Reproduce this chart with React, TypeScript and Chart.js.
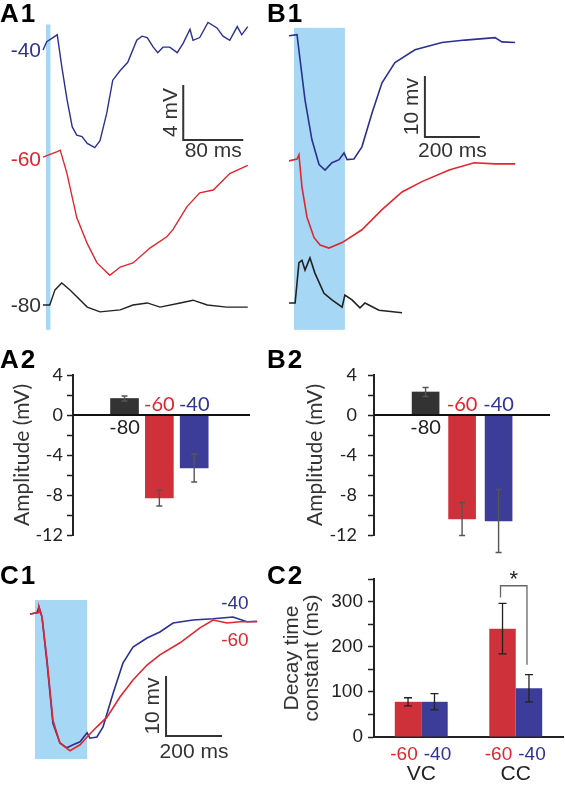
import React, { useEffect, useRef } from "react";
import { Chart, registerables } from "chart.js";

Chart.register(...registerables);

// ---------------- DATA ----------------
// A1: example responses (time in ms from light onset, deflection in mV)
const a1TimeNeg40 = [0, 5, 19, 25, 32, 39, 45, 52, 59, 69, 76, 85, 93, 103, 113, 125, 132, 139, 147, 153, 160, 169, 179, 187, 196, 200, 209, 220, 232, 240, 249, 259, 265, 273];
const a1VoltNeg40 = [0, 0.6, 1.1, -1.2, -3.6, -5.6, -6.2, -6.3, -6.8, -7.1, -6.6, -4.6, -2.2, -1.5, -0.9, 0.7, 1.0, 0.9, 0.2, -0.2, 0.2, 0.2, -0.2, 0.5, 1.5, 0.7, 0.9, 2.0, 1.6, 1.0, 0.7, 1.7, 1.1, 1.7];
const a1TimeNeg60 = [0, 19, 23, 32, 45, 59, 72, 89, 103, 120, 143, 165, 173, 192, 209, 227, 249, 273];
const a1VoltNeg60 = [0, 0.4, 0.5, -1.2, -4.4, -6.3, -7.7, -8.6, -8.0, -7.7, -6.6, -5.8, -5.3, -3.6, -2.6, -2.4, -1.2, -0.6];
const a1TimeNeg80 = [0, 9, 16, 25, 36, 59, 76, 103, 120, 139, 156, 183, 200, 219, 245, 273];
const a1VoltNeg80 = [0, 0, 1.1, 1.6, 1.1, -0.15, -0.5, -0.35, 0, 0.15, -0.15, 0.15, 0.35, 0, -0.15, -0.15];

// B1: example responses
const b1TimeNeg40 = [-18, 11, 22, 40, 65, 91, 113, 138, 164, 182, 193, 218, 247, 284, 320, 367, 440, 538, 622, 731, 756, 804];
const b1VoltNeg40 = [0, 0.2, -3.9, -10.5, -17.0, -21.1, -22.0, -20.8, -20.3, -19.2, -20.3, -20.2, -18.2, -12.6, -7.7, -4.4, -2.3, -1.1, -0.7, -0.3, -1.0, -1.1];
const b1TimeNeg60 = [-18, 11, 18, 29, 47, 73, 95, 127, 175, 247, 320, 393, 465, 564, 655, 731, 804];
const b1VoltNeg60 = [0, 0.3, 1.0, -4.3, -9.2, -12.6, -13.8, -14.3, -13.4, -11.3, -8.0, -5.1, -3.4, -1.5, -0.3, -0.5, -0.5];
const b1TimeNeg80 = [-18, 4, 18, 29, 40, 58, 76, 109, 138, 175, 185, 211, 240, 258, 309, 393];
const b1VoltNeg80 = [0, 0, 6.6, 7.0, 5.4, 7.4, 4.9, 1.6, 0.5, -0.7, 1.3, 0.5, -0.8, 0, -1.2, -1.6];

// C1: overlaid -40 / -60 responses
const c1TimeNeg40 = [-18, 7, 14, 25, 43, 64, 89, 114, 136, 161, 186, 196, 221, 243, 279, 314, 350, 400, 446, 493, 564, 636, 707, 757, 793];
const c1VoltNeg40 = [0, 0.2, 1.2, -0.5, -8.2, -18.2, -21.5, -22.3, -21.8, -21.3, -19.8, -20.7, -20.5, -18.8, -13.2, -8.2, -5.5, -4.0, -3.0, -1.5, -1.0, -0.8, -0.5, -1.3, -1.2];
const c1TimeNeg60 = [-18, 11, 14, 25, 43, 64, 89, 125, 161, 186, 221, 257, 304, 350, 400, 446, 518, 589, 636, 686, 732, 793];
const c1VoltNeg60 = [0, 0.2, 1.2, -0.5, -7.7, -17.7, -21.5, -22.8, -21.8, -20.5, -18.8, -17.2, -13.8, -11.0, -8.5, -6.8, -4.8, -2.3, -1.0, -1.5, -1.3, -1.3];

// A2 / B2: amplitude summary (mV)
const holdingLabels = ["-80", "-60", "-40"];
const a2Means = [1.65, -8.3, -5.3];
const a2Errors = [0.25, 0.8, 1.4];
const b2Means = [2.3, -10.4, -10.6];
const b2Errors = [0.45, 1.65, 3.15];

// C2: decay time constants (ms)
const c2Groups = ["VC", "CC"];
const c2Neg60 = [78, 240];
const c2Neg40 = [78, 108];
const c2Err60 = [9, 56];
const c2Err40 = [18, 30];
const c2SigBracket = { top: 335, leftEnd: 309, rightEnd: 160, starAt: 353 };

// ---------------- STYLE ----------------
const TRACE_BLUE = "#2b3193";
const TRACE_RED = "#e2262e";
const TRACE_BLACK = "#222222";
const STIM = "#a6d7f4";
const BAR_BLACK = "#333333";
const BAR_RED = "#cf313b";
const BAR_BLUE = "#3c3d98";
const LABEL_RED = "#e0262d";
const LABEL_BLUE = "#2e3394";
const ARIAL = '"Liberation Sans", Arial, Helvetica, sans-serif';
const CAL = 'Lato, "Liberation Sans", Arial, sans-serif';

type Trace = { t: number[]; v: number[]; offset: number; color: string; width: number };
type TLabel = { text: string; color: string; t: number; v: number; align: CanvasTextAlign; dx: number; dy: number };
type TraceSpec = {
  traces: Trace[];
  xRange: [number, number];
  yRange: [number, number];
  stim: [number, number, number, number];
  bar: { t: number; v: number; dt: number; dv: number; vText: string; hText: string; vDx: number; hDy: number };
  labels: TLabel[];
  labelFont: string;
};

function traceConfig(spec: TraceSpec): any {
  const decor = {
    id: "decor",
    beforeDatasetsDraw(chart: any) {
      const { ctx } = chart;
      const x = chart.scales.x, y = chart.scales.y;
      const [t0, t1, vt, vb] = spec.stim;
      const px0 = x.getPixelForValue(t0), px1 = x.getPixelForValue(t1);
      const py0 = y.getPixelForValue(vt), py1 = y.getPixelForValue(vb);
      ctx.save();
      ctx.fillStyle = STIM;
      ctx.fillRect(px0, py0, px1 - px0, py1 - py0);
      ctx.restore();
    },
    afterDatasetsDraw(chart: any) {
      const { ctx } = chart;
      const x = chart.scales.x, y = chart.scales.y;
      const b = spec.bar;
      const bx = x.getPixelForValue(b.t), by = y.getPixelForValue(b.v);
      const bx2 = x.getPixelForValue(b.t + b.dt), by2 = y.getPixelForValue(b.v + b.dv);
      ctx.save();
      ctx.strokeStyle = "#333";
      ctx.lineWidth = 2;
      ctx.beginPath();
      ctx.moveTo(bx, by2);
      ctx.lineTo(bx, by);
      ctx.lineTo(bx2, by);
      ctx.stroke();
      ctx.fillStyle = "#333";
      ctx.font = "21px " + ARIAL;
      ctx.textAlign = "center";
      ctx.textBaseline = "middle";
      ctx.fillText(b.hText, (bx + bx2) / 2, by + b.hDy);
      ctx.save();
      ctx.translate(bx + b.vDx, (by + by2) / 2);
      ctx.rotate(-Math.PI / 2);
      ctx.fillText(b.vText, 0, 0);
      ctx.restore();
      ctx.font = spec.labelFont;
      for (const l of spec.labels) {
        ctx.fillStyle = l.color;
        ctx.textAlign = l.align;
        ctx.fillText(l.text, x.getPixelForValue(l.t) + l.dx, y.getPixelForValue(l.v) + l.dy);
      }
      ctx.restore();
    },
  };
  return {
    type: "line",
    data: {
      datasets: spec.traces.map((tr) => ({
        data: tr.t.map((t, i) => ({ x: t, y: tr.v[i] + tr.offset })),
        borderColor: tr.color,
        borderWidth: tr.width,
        pointRadius: 0,
        tension: 0,
        fill: false,
      })),
    },
    options: {
      animation: false,
      responsive: false,
      devicePixelRatio: 1,
      events: [],
      layout: { padding: 0 },
      plugins: { legend: { display: false }, tooltip: { enabled: false } },
      scales: {
        x: { type: "linear", display: false, min: spec.xRange[0], max: spec.xRange[1] },
        y: { type: "linear", display: false, min: spec.yRange[0], max: spec.yRange[1] },
      },
    },
    plugins: [decor],
  };
}

function errorBars(errs: number[][], color: string, capHalf: number, lw: number) {
  return {
    id: "errbars",
    afterDatasetsDraw(chart: any) {
      const { ctx } = chart;
      const y = chart.scales.y;
      ctx.save();
      ctx.strokeStyle = color;
      ctx.lineWidth = lw;
      chart.data.datasets.forEach((ds: any, di: number) => {
        const meta = chart.getDatasetMeta(di);
        meta.data.forEach((el: any, i: number) => {
          const d = ds.data[i];
          const mean = typeof d === "number" ? d : d.y;
          const e = errs[di][i];
          const yt = y.getPixelForValue(mean + e), yb = y.getPixelForValue(mean - e);
          ctx.beginPath();
          ctx.moveTo(el.x, yt);
          ctx.lineTo(el.x, yb);
          ctx.moveTo(el.x - capHalf, yt);
          ctx.lineTo(el.x + capHalf, yt);
          ctx.moveTo(el.x - capHalf, yb);
          ctx.lineTo(el.x + capHalf, yb);
          ctx.stroke();
        });
      });
      ctx.restore();
    },
  };
}

function ampConfig(means: number[], errs: number[], o: { axisW: number; padRight: number; xMin: number; xMax: number; barW: number; tickPad: number; titlePad: number }): any {
  const labelColors = ["#222222", LABEL_RED, LABEL_BLUE];
  const zeroAndLabels = {
    id: "zeroLabels",
    afterDatasetsDraw(chart: any) {
      const { ctx, chartArea } = chart;
      const y = chart.scales.y;
      const y0 = y.getPixelForValue(0);
      ctx.save();
      ctx.strokeStyle = "#111";
      ctx.lineWidth = 2;
      ctx.beginPath();
      ctx.moveTo(chartArea.left, y0);
      ctx.lineTo(chartArea.right, y0);
      ctx.stroke();
      ctx.font = "20px " + CAL;
      ctx.textAlign = "center";
      ctx.textBaseline = "middle";
      chart.getDatasetMeta(0).data.forEach((el: any, i: number) => {
        ctx.fillStyle = labelColors[i];
        const up = means[i] < 0;
        ctx.fillText(holdingLabels[i], el.x, up ? y0 - 10 : y0 + 13);
      });
      ctx.restore();
    },
  };
  return {
    type: "bar",
    data: {
      datasets: [
        {
          data: means.map((m, i) => ({ x: i, y: m })),
          backgroundColor: [BAR_BLACK, BAR_RED, BAR_BLUE],
          borderWidth: 0,
          barThickness: o.barW,
        },
      ],
    },
    options: {
      animation: false,
      responsive: false,
      devicePixelRatio: 1,
      events: [],
      layout: { padding: { left: 0, top: 40, right: o.padRight, bottom: 45 } },
      plugins: { legend: { display: false }, tooltip: { enabled: false } },
      scales: {
        x: { type: "linear", display: false, min: o.xMin, max: o.xMax },
        y: {
          min: -12,
          max: 4,
          afterFit: (s: any) => {
            s.width = o.axisW;
          },
          ticks: {
            stepSize: 2,
            autoSkip: false,
            padding: o.tickPad,
            color: "#222",
            font: { family: CAL, size: 18 },
            callback: (v: any) => (Math.abs(Number(v) % 4) < 1e-6 ? String(v) : ""),
          },
          grid: { drawOnChartArea: false, tickLength: 6, tickColor: "#222", tickWidth: 1.5 },
          border: { display: true, color: "#222", width: 2 },
          title: {
            display: true,
            text: "Amplitude (mV)",
            color: "#333",
            font: { family: CAL, size: 21, lineHeight: 1.2 },
            padding: { top: o.titlePad, bottom: 0 },
          },
        },
      },
    },
    plugins: [errorBars([errs], "#555", 3, 1.4), zeroAndLabels],
  };
}

function c2Config(): any {
  const xLabels = {
    id: "c2labels",
    afterDatasetsDraw(chart: any) {
      const { ctx, chartArea } = chart;
      const y = chart.scales.y;
      ctx.save();
      ctx.font = "19px " + ARIAL;
      ctx.textAlign = "center";
      ctx.textBaseline = "middle";
      chart.data.datasets.forEach((ds: any, di: number) => {
        ctx.fillStyle = di === 0 ? LABEL_RED : LABEL_BLUE;
        chart.getDatasetMeta(di).data.forEach((el: any) => {
          ctx.fillText(ds.label, el.x + (di === 0 ? -4 : 3), chartArea.bottom + 18);
        });
      });
      // significance bracket between CC bars
      const lx = chart.getDatasetMeta(0).data[1].x - 2;
      const rx = chart.getDatasetMeta(1).data[1].x - 2;
      const yTop = y.getPixelForValue(c2SigBracket.top);
      ctx.strokeStyle = "#666";
      ctx.lineWidth = 1.3;
      ctx.beginPath();
      ctx.moveTo(lx, y.getPixelForValue(c2SigBracket.leftEnd));
      ctx.lineTo(lx, yTop);
      ctx.lineTo(rx, yTop);
      ctx.lineTo(rx, y.getPixelForValue(c2SigBracket.rightEnd));
      ctx.stroke();
      ctx.fillStyle = "#222";
      ctx.font = "22px " + ARIAL;
      ctx.fillText("*", (lx + rx) / 2, y.getPixelForValue(c2SigBracket.starAt) + 2);
      ctx.restore();
    },
  };
  return {
    type: "bar",
    data: {
      labels: c2Groups,
      datasets: [
        { label: "-60", data: c2Neg60, backgroundColor: BAR_RED, borderWidth: 0, categoryPercentage: 0.56, barPercentage: 1 },
        { label: "-40", data: c2Neg40, backgroundColor: BAR_BLUE, borderWidth: 0, categoryPercentage: 0.56, barPercentage: 1 },
      ],
    },
    options: {
      animation: false,
      responsive: false,
      devicePixelRatio: 1,
      events: [],
      layout: { padding: { left: 0, top: 19, right: 2, bottom: 0 } },
      plugins: { legend: { display: false }, tooltip: { enabled: false } },
      scales: {
        x: {
          afterFit: (s: any) => {
            s.height = 48;
          },
          grid: { display: false, drawTicks: false },
          border: { display: true, color: "#222", width: 2 },
          ticks: { color: "#222", padding: 25, font: { family: ARIAL, size: 21 } },
        },
        y: {
          min: 0,
          max: 350,
          afterFit: (s: any) => {
            s.width = 92;
          },
          ticks: {
            stepSize: 50,
            autoSkip: false,
            padding: 5,
            color: "#222",
            font: { family: ARIAL, size: 19 },
            callback: (v: any) => (Number(v) % 100 === 0 ? String(v) : ""),
          },
          grid: { drawOnChartArea: false, tickLength: 6, tickColor: "#222", tickWidth: 1.5 },
          border: { display: true, color: "#222", width: 2 },
          title: {
            display: true,
            text: ["Decay time", "constant (ms)"],
            color: "#333",
            font: { family: ARIAL, size: 21, lineHeight: 0.95 },
            padding: { top: 0, bottom: 0 },
          },
        },
      },
    },
    plugins: [errorBars([c2Err60, c2Err40], "#222", 4, 1.3), xLabels],
  };
}

const configs: Record<string, () => any> = {
  a1: () =>
    traceConfig({
      traces: [
        { t: a1TimeNeg40, v: a1VoltNeg40, offset: 18.55, color: TRACE_BLUE, width: 1.4 },
        { t: a1TimeNeg60, v: a1VoltNeg60, offset: 10.76, color: TRACE_RED, width: 1.4 },
        { t: a1TimeNeg80, v: a1VoltNeg80, offset: 0, color: TRACE_BLACK, width: 1.4 },
      ],
      xRange: [-57.33, 318.67],
      yRange: [-2.18, 22.18],
      stim: [4, 10, 20.4, -1.8],
      bar: { t: 187, v: 12.0, dt: 80, dv: 4, vText: "4 mV", hText: "80 ms", vDx: -12, hDy: 11 },
      labels: [
        { text: "-40", color: LABEL_BLUE, t: 0, v: 18.55, align: "right", dx: -2, dy: 1 },
        { text: "-60", color: LABEL_RED, t: 0, v: 10.76, align: "right", dx: -2, dy: 3 },
        { text: "-80", color: "#333", t: 0, v: 0, align: "right", dx: -2, dy: 1 },
      ],
      labelFont: "21px " + ARIAL,
    }),
  b1: () =>
    traceConfig({
      traces: [
        { t: b1TimeNeg40, v: b1VoltNeg40, offset: 43.8, color: TRACE_BLUE, width: 1.6 },
        { t: b1TimeNeg60, v: b1VoltNeg60, offset: 23.3, color: TRACE_RED, width: 1.6 },
        { t: b1TimeNeg80, v: b1VoltNeg80, offset: 0, color: TRACE_BLACK, width: 1.6 },
      ],
      xRange: [-43.64, 985.45],
      yRange: [-5.246, 49.67],
      stim: [0, 185, 45.1, -4.4],
      bar: { t: 476, v: 27.2, dt: 200, dv: 10, vText: "10 mv", hText: "200 ms", vDx: -13, hDy: 14 },
      labels: [],
      labelFont: "21px " + ARIAL,
    }),
  c1: () =>
    traceConfig({
      traces: [
        { t: c1TimeNeg60, v: c1VoltNeg60, offset: 0, color: TRACE_RED, width: 1.6 },
        { t: c1TimeNeg40, v: c1VoltNeg40, offset: 0, color: TRACE_BLUE, width: 1.6 },
      ],
      xRange: [-125, 882.14],
      yRange: [-28.5, 5.667],
      stim: [0, 186, 2.33, -24.17],
      bar: { t: 468, v: -20.33, dt: 200, dv: 10, vText: "10 mv", hText: "200 ms", vDx: -13, hDy: 16 },
      labels: [
        { text: "-40", color: LABEL_BLUE, t: 714, v: 1.67, align: "center", dx: 0, dy: 0 },
        { text: "-60", color: LABEL_RED, t: 714, v: -4.5, align: "center", dx: 0, dy: 0 },
      ],
      labelFont: "19px " + ARIAL,
    }),
  a2: () => ampConfig(a2Means, a2Errors, { axisW: 73, padRight: 32, xMin: -0.632, xMax: 2.755, barW: 28, tickPad: 4, titlePad: 10 }),
  b2: () => ampConfig(b2Means, b2Errors, { axisW: 92, padRight: 15, xMin: -0.61, xMax: 2.605, barW: 27, tickPad: 11, titlePad: 21 }),
  c2: c2Config,
};

function ChartCanvas(props: { id: string; left: number; top: number; width: number; height: number }) {
  const ref = useRef<HTMLCanvasElement>(null);
  useEffect(() => {
    const chart = new Chart(ref.current as HTMLCanvasElement, configs[props.id]());
    return () => chart.destroy();
  }, [props.id]);
  return (
    <canvas
      ref={ref}
      width={props.width}
      height={props.height}
      style={{ position: "absolute", left: props.left, top: props.top, width: props.width, height: props.height }}
    />
  );
}

function PanelLabel(props: { text: string; left: number; top: number }) {
  return (
    <div
      style={{
        position: "absolute",
        left: props.left,
        top: props.top,
        fontFamily: ARIAL,
        fontWeight: 700,
        fontSize: 26,
        lineHeight: 1,
        letterSpacing: 2,
        color: "#000",
      }}
    >
      {props.text}
    </div>
  );
}

export default function App() {
  return (
    <div style={{ position: "absolute", left: 0, top: 0, width: 565, height: 785, background: "#fff", overflow: "hidden" }}>
      <ChartCanvas id="a1" left={0} top={0} width={282} height={335} />
      <ChartCanvas id="b1" left={282} top={0} width={283} height={335} />
      <ChartCanvas id="a2" left={0} top={335} width={282} height={245} />
      <ChartCanvas id="b2" left={282} top={335} width={283} height={245} />
      <ChartCanvas id="c1" left={0} top={580} width={282} height={205} />
      <ChartCanvas id="c2" left={282} top={560} width={283} height={225} />
      <PanelLabel text="A1" left={0} top={0} />
      <PanelLabel text="B1" left={267} top={0} />
      <PanelLabel text="A2" left={0} top={346} />
      <PanelLabel text="B2" left={267} top={346} />
      <PanelLabel text="C1" left={0} top={562} />
      <PanelLabel text="C2" left={267} top={562} />
    </div>
  );
}
